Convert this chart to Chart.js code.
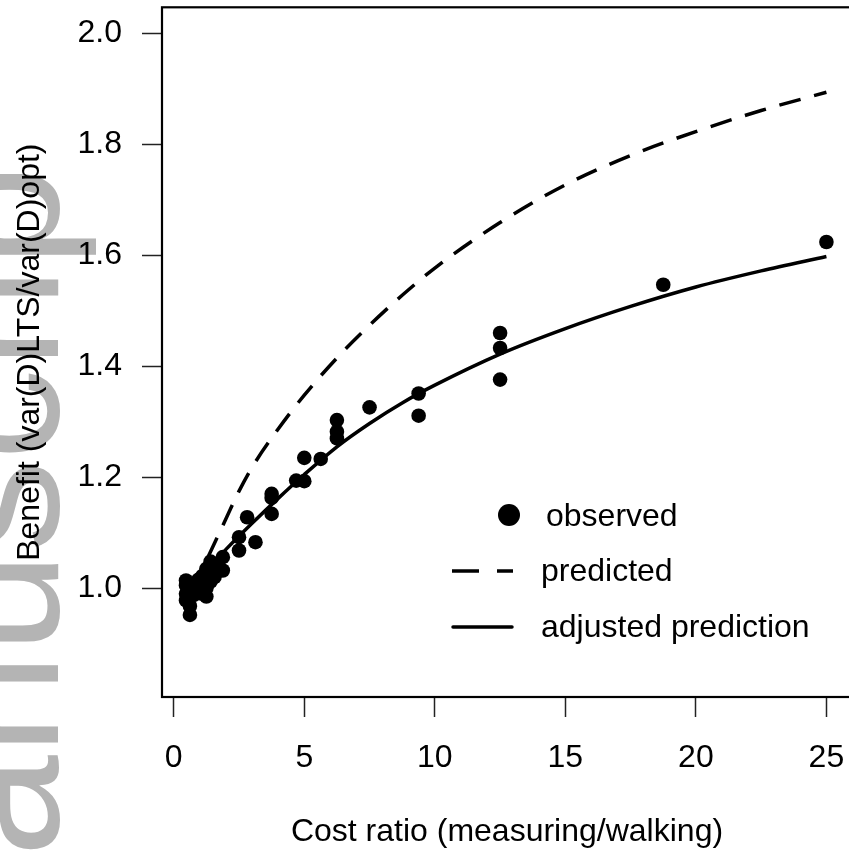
<!DOCTYPE html>
<html><head><meta charset="utf-8">
<script src="https://cdn.jsdelivr.net/npm/chart.js@4.4.1/dist/chart.umd.min.js"></script>
<style>html,body{margin:0;padding:0;overflow:hidden;background:#fff;width:849px;height:857px}canvas{display:block}</style>
</head><body>
<canvas id="c" width="870" height="857"></canvas>
<script>
// ---- data ----
const obsX = [0.47,0.47,0.47,0.47,0.62,0.62,0.62,0.78,0.78,0.94,0.94,1.09,1.09,1.09,1.25,1.25,1.25,1.41,1.41,1.56,1.56,1.88,1.88,2.50,2.50,2.81,3.13,3.75,3.75,3.75,4.69,5.00,5.00,5.63,6.25,6.25,6.25,7.50,9.38,9.38,12.5,12.5,12.5,18.75,25.0];
const obsY = [1.014,1.005,0.990,0.978,0.952,0.968,1.000,1.008,0.988,1.015,0.995,1.022,1.004,0.990,1.035,1.000,0.985,1.048,1.012,1.040,1.020,1.056,1.032,1.092,1.068,1.128,1.083,1.170,1.163,1.134,1.194,1.235,1.193,1.233,1.303,1.282,1.270,1.326,1.351,1.311,1.460,1.433,1.376,1.547,1.624];
const predX = [1.3,1.75,2.5,3.0,4.0,5.0,6.25,7.5,8.75,10,12.5,15,17.5,20,22.5,25];
const predY = [1.055,1.10,1.175,1.218,1.287,1.348,1.415,1.474,1.528,1.577,1.659,1.727,1.780,1.823,1.861,1.894];
const adjX = [0.47,1.0,1.5,2.0,3.0,4.0,5.0,6.25,7.5,8.75,10,12.5,15,17.5,20,22.5,25];
const adjY = [0.99,1.02,1.045,1.07,1.117,1.162,1.205,1.255,1.297,1.334,1.366,1.422,1.468,1.508,1.543,1.572,1.598];
const xTicks = [0,5,10,15,20,25];
const yTicks = [1.0,1.2,1.4,1.6,1.8,2.0];
const seriesLabels = ['observed','predicted','adjusted prediction'];
const xTitle = 'Cost ratio (measuring/walking)';
const yTitle = 'Benefit (var(D)LTS/var(D)opt)';
const watermark = 'Manuscript';

const toPts = (xs, ys) => xs.map((x, i) => ({x: x, y: ys[i]}));
const FONT = "'Liberation Sans', Arial, sans-serif";
Chart.defaults.font.family = FONT;
Chart.defaults.color = '#000';

const watermarkPlugin = {
  id: 'wm',
  beforeDraw(chart) {
    const ctx = chart.ctx;
    ctx.save();
    ctx.beginPath(); ctx.rect(0, 174, 160, 700); ctx.clip();
    ctx.font = '183px ' + FONT;
    ctx.fillStyle = '#b4b4b4';
    const wM = ctx.measureText('M').width;
    ctx.translate(58, 857 + wM);
    ctx.rotate(-Math.PI / 2);
    ctx.textBaseline = 'alphabetic';
    ctx.textAlign = 'left';
    ctx.fillText(watermark, 0, 0);
    ctx.restore();
  }
};

const boxPlugin = {
  id: 'box',
  beforeDatasetsDraw(chart) {
    const a = chart.chartArea, ctx = chart.ctx;
    ctx.save();
    ctx.strokeStyle = '#000';
    ctx.lineWidth = 2.2;
    ctx.strokeRect(a.left, a.top, a.right - a.left, a.bottom - a.top);
    ctx.restore();
  }
};

const legendPlugin = {
  id: 'rlegend',
  afterDraw(chart) {
    const ctx = chart.ctx;
    ctx.save();
    ctx.font = '32px ' + FONT;
    ctx.fillStyle = '#000';
    ctx.strokeStyle = '#000';
    ctx.textBaseline = 'middle';
    ctx.textAlign = 'left';
    ctx.beginPath(); ctx.arc(509, 515, 11, 0, Math.PI * 2); ctx.fill();
    ctx.fillText(chart.data.datasets[0].label, 546, 517);
    ctx.lineWidth = 3.5;
    ctx.setLineDash([27, 18]);
    ctx.beginPath(); ctx.moveTo(452, 571); ctx.lineTo(513, 571); ctx.stroke();
    ctx.setLineDash([]);
    ctx.fillText(chart.data.datasets[1].label, 541, 572);
    ctx.lineCap = 'round';
    ctx.beginPath(); ctx.moveTo(453, 627); ctx.lineTo(512, 627); ctx.stroke();
    ctx.fillText(chart.data.datasets[2].label, 541, 628);
    ctx.restore();
  }
};

function fixPad(s) { s.paddingTop = 0; s.paddingBottom = 0; s.paddingLeft = 0; s.paddingRight = 0; }

new Chart(document.getElementById('c'), {
  type: 'scatter',
  data: {
    datasets: [
      {label: seriesLabels[0], data: toPts(obsX, obsY), showLine: false,
       pointRadius: 7.3, pointBackgroundColor: '#000', pointBorderWidth: 0, borderColor: '#000'},
      {label: seriesLabels[1], data: toPts(predX, predY), showLine: true, pointRadius: 0,
       borderColor: '#000', borderWidth: 3.5, borderDash: [22, 14], cubicInterpolationMode: 'monotone', fill: false},
      {label: seriesLabels[2], data: toPts(adjX, adjY), showLine: true, pointRadius: 0,
       borderColor: '#000', borderWidth: 3.5, cubicInterpolationMode: 'monotone', fill: false}
    ]
  },
  options: {
    responsive: false,
    animation: false,
    events: [],
    layout: {padding: {top: 5, right: 18, left: 0, bottom: 0}},
    plugins: {legend: {display: false}, tooltip: {enabled: false}},
    scales: {
      x: {
        type: 'linear', min: -0.45, max: 25.98,
        afterBuildTicks: s => { s.ticks = xTicks.map(v => ({value: v})); },
        afterFit: s => { s.height = 160; fixPad(s); },
        grid: {drawOnChartArea: false, drawTicks: true, tickLength: 20, tickWidth: 1.5, tickColor: '#222'},
        border: {display: false},
        ticks: {padding: 22, font: {size: 32}, color: '#000', maxRotation: 0, callback: v => String(v)},
        title: {display: true, text: xTitle, font: {size: 32}, color: '#000', padding: {top: 0, bottom: 6}}
      },
      y: {
        type: 'linear', min: 0.804, max: 2.047,
        afterBuildTicks: s => { s.ticks = yTicks.map(v => ({value: v})); },
        afterFit: s => { s.width = 162; fixPad(s); },
        grid: {drawOnChartArea: false, drawTicks: true, tickLength: 20, tickWidth: 1.5, tickColor: '#222'},
        border: {display: false},
        ticks: {padding: 20, font: {size: 32}, color: '#000', callback: v => Number(v).toFixed(1)},
        title: {display: true, text: yTitle, font: {size: 32}, color: '#000', padding: {top: 11, bottom: 0}}
      }
    }
  },
  plugins: [watermarkPlugin, boxPlugin, legendPlugin]
});
</script>
</body></html>
